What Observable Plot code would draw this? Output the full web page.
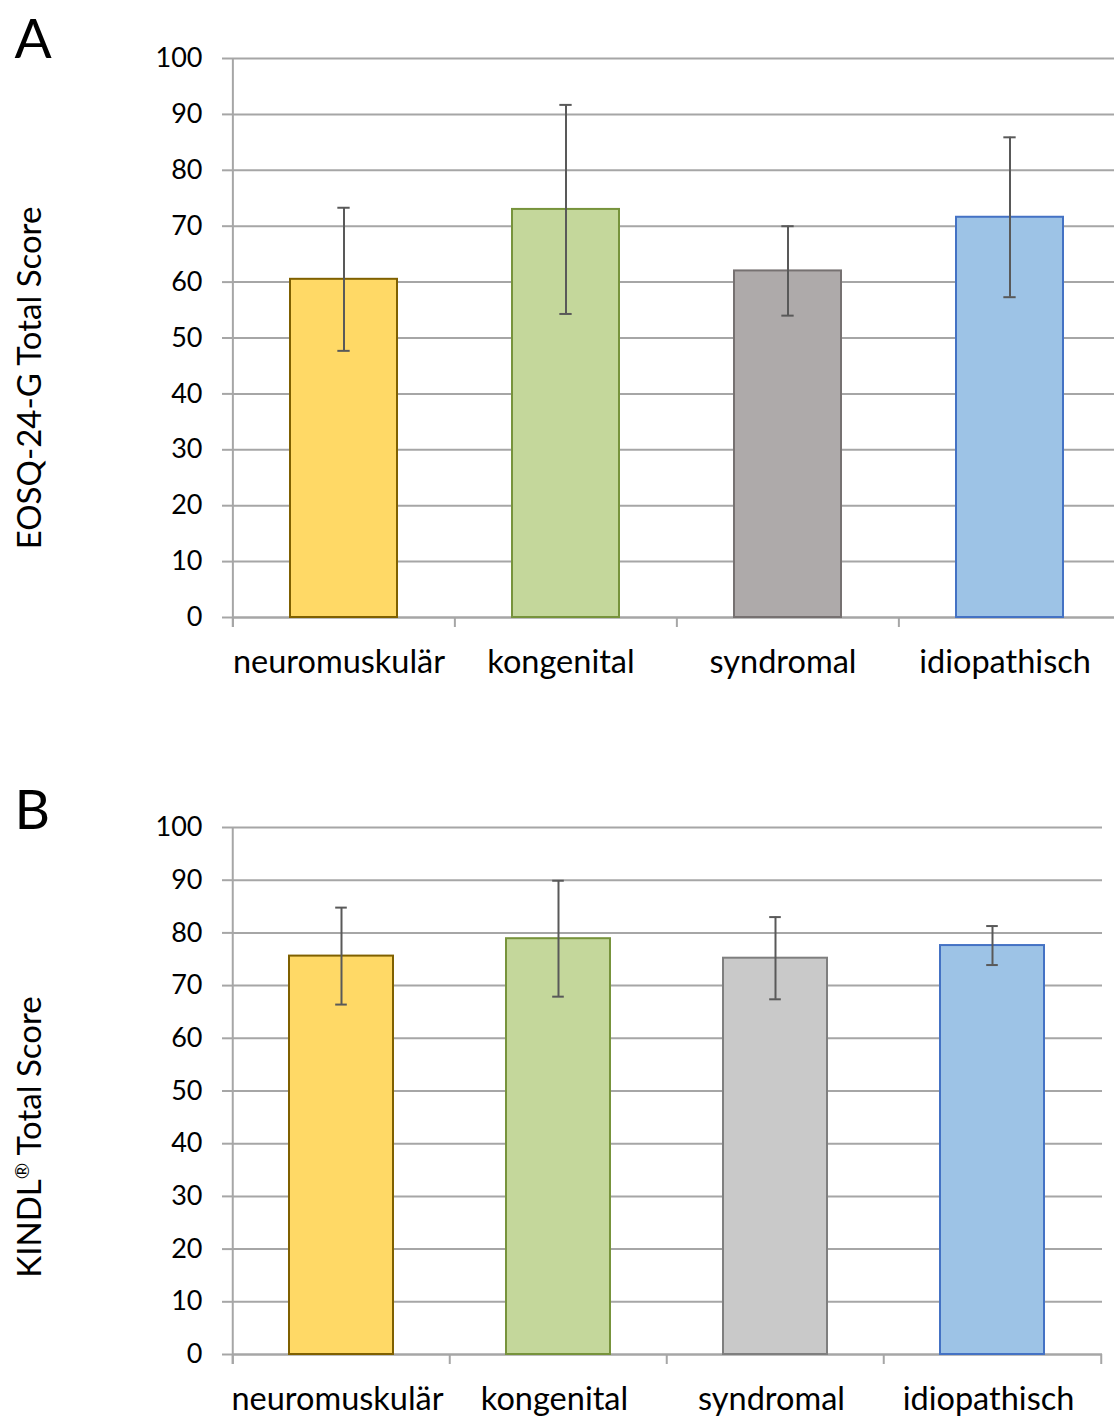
<!DOCTYPE html>
<html><head><meta charset="utf-8">
<script src="https://cdn.jsdelivr.net/npm/d3@7"></script>
<script src="https://cdn.jsdelivr.net/npm/@observablehq/plot@0.6"></script>
<style>
body{margin:0;background:#fff;}
#wrap{position:relative;width:1114px;height:1416px;overflow:hidden;background:#fff;}
.panel{position:absolute;left:0;}
</style></head><body>
<div id="wrap"><div id="a" class="panel" style="top:0"></div><div id="b" class="panel" style="top:708px"></div></div>
<script>
const categories = ["neuromuskulär", "kongenital", "syndromal", "idiopathisch"];
const eosqMean = [60.5, 73.0, 62.0, 71.6];
const eosqSD = [12.8, 18.7, 8.0, 14.3];
const kindlMean = [75.6, 78.9, 75.2, 77.6];
const kindlSD = [9.2, 11.0, 7.8, 3.7];
const yTicks = [0, 10, 20, 30, 40, 50, 60, 70, 80, 90, 100];
const titleA = "EOSQ-24-G Total Score";
const titleB = "KINDL® Total Score";

const fillsA = ["#FFD966", "#C4D79B", "#AEAAAA", "#9DC3E6"];
const strokesA = ["#7F6000", "#77933C", "#767171", "#4472C4"];
const fillsB = ["#FFD966", "#C4D79B", "#C9C9C9", "#9DC3E6"];
const strokesB = ["#7F6000", "#77933C", "#7F7F7F", "#4472C4"];

function chart({means, sds, fills, strokes, title, letter, height, marginTop, marginBottom, xRange, marginRight, titleDy, letterDy, labelDx}) {
  const rows = categories.map((c, i) => ({category: c, mean: means[i], sd: sds[i], fill: fills[i], stroke: strokes[i]}));
  const step = (xRange[1] - xRange[0]) / categories.length;
  const bw = step * (1 - 0.52);
  const plotH = height - marginTop - marginBottom;
  const tickLen = -10 * 100 / plotH;
  const grid = "#a6a6a6";
  const svg = Plot.plot({
    width: 1114, height, marginTop, marginBottom, marginLeft: 232, marginRight,
    x: {domain: categories, range: xRange, paddingInner: 0.52, paddingOuter: 0.26, align: 0.5},
    y: {domain: [0, 100]},
    color: {type: "identity"},
    style: {fontFamily: "Lato, sans-serif", color: "#000", background: "#fff", overflow: "visible"},
    marks: [
      Plot.gridY(yTicks, {stroke: grid, strokeOpacity: 1, strokeWidth: 2}),
      Plot.axisY(yTicks, {tickSize: 10, tickPadding: 20, fontSize: 27, stroke: grid, strokeWidth: 2, label: null, tickFormat: d => d}),
      Plot.ruleX(categories.slice(0, 1), {x: d => d, dx: -step / 2, y1: tickLen, y2: 100, stroke: grid, strokeWidth: 2}),
      Plot.ruleX(categories, {x: d => d, dx: -step / 2, y1: tickLen, y2: 0, stroke: grid, strokeWidth: 2}),
      Plot.ruleX(categories.slice(-1), {x: d => d, dx: step / 2, y1: tickLen, y2: 0, stroke: grid, strokeWidth: 2}),
      Plot.ruleY([0], {stroke: grid, strokeWidth: 2}),
      Plot.barY(rows, {x: "category", y: "mean", fill: "fill", stroke: "stroke", strokeWidth: 2}),
      Plot.ruleX(rows, {x: "category", y1: d => d.mean - d.sd, y2: d => d.mean + d.sd, stroke: "#595959", strokeWidth: 2}),
      Plot.tickY(rows, {x: "category", y: d => d.mean - d.sd, stroke: "#595959", strokeWidth: 2, inset: (bw - 12) / 2}),
      Plot.tickY(rows, {x: "category", y: d => d.mean + d.sd, stroke: "#595959", strokeWidth: 2, inset: (bw - 12) / 2}),
      Plot.axisX({tickSize: 0, tickPadding: 32, fontSize: 32.5, label: null, dx: labelDx}),
      Plot.text([title], {frameAnchor: "left", dx: -202, dy: titleDy, rotate: -90, textAnchor: "middle", fontSize: 33, fill: "#000"}),
      Plot.text([letter], {frameAnchor: "top-left", dx: -218, dy: letterDy, textAnchor: "start", lineAnchor: "bottom", fontSize: 55, fill: "#000"})
    ]
  });
  return svg;
}

document.getElementById("a").append(chart({
  means: eosqMean, sds: eosqSD, fills: fillsA, strokes: strokesA, title: titleA, letter: "A",
  height: 700, marginTop: 58, marginBottom: 83, xRange: [232, 1121], marginRight: 0, titleDy: 40, letterDy: -1, labelDx: -5
}));
const svgB = chart({
  means: kindlMean, sds: kindlSD, fills: fillsB, strokes: strokesB, title: titleB, letter: "B",
  height: 708, marginTop: 119, marginBottom: 62, xRange: [232, 1102], marginRight: 12, titleDy: 46, letterDy: 1, labelDx: -4
});
document.getElementById("b").append(svgB);
// render the ® sign as a superscript, as in the original
d3.select(svgB).selectAll("text").filter(function() { return this.textContent === titleB; }).each(function() {
  const t = d3.select(this);
  const parts = titleB.split("®");
  t.text(null);
  t.append("tspan").text(parts[0]);
  t.append("tspan").attr("font-size", "60%").attr("dy", "-12").text("®");
  t.append("tspan").attr("dy", "12").text(parts[1]);
});
</script>
</body></html>
